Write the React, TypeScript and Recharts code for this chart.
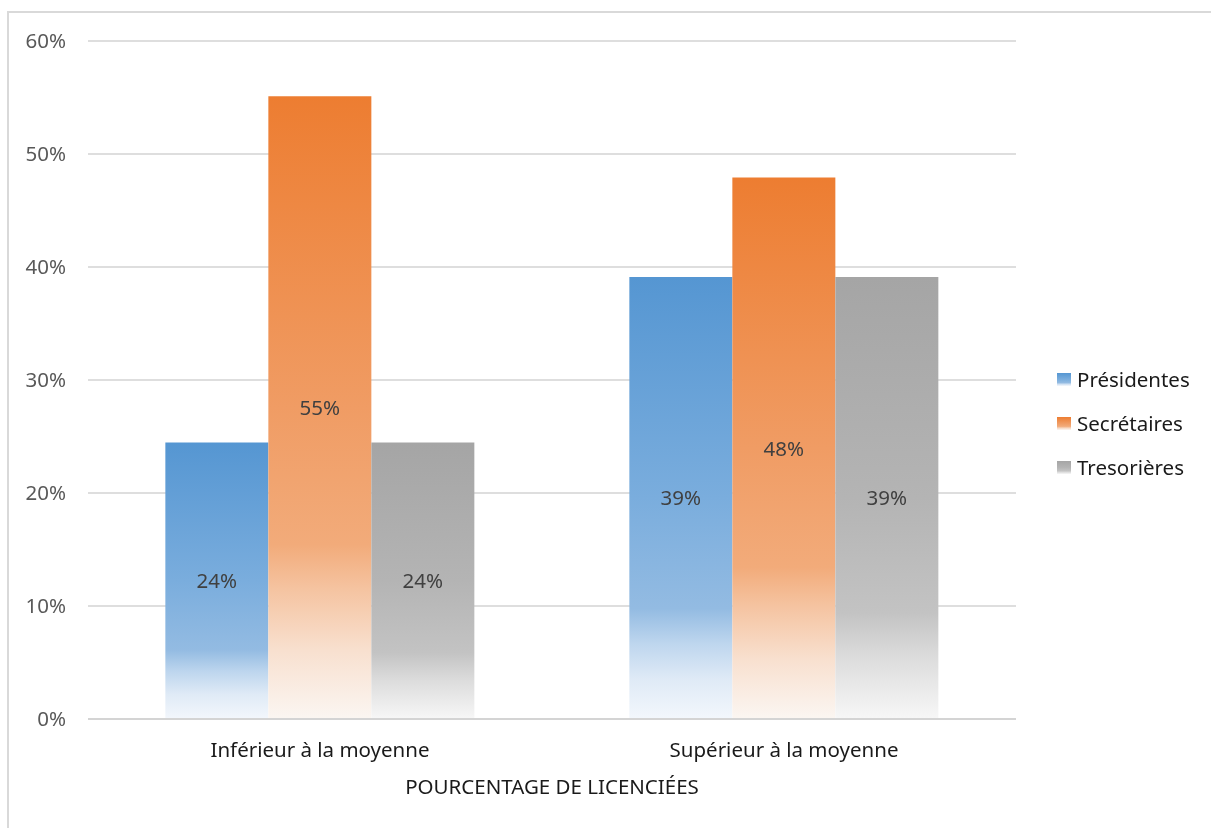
import React from 'react';
import { BarChart, Bar, XAxis, YAxis, CartesianGrid, Legend, LabelList } from 'recharts';

const categories = ['Inférieur à la moyenne', 'Supérieur à la moyenne'];
const presidentes = [0.2448, 0.3912];
const secretaires = [0.5512, 0.4792];
const tresorieres = [0.2448, 0.3912];
const seriesNames = ['Présidentes', 'Secrétaires', 'Tresorières'];
const seriesKeys = ['presidentes', 'secretaires', 'tresorieres'];
const gradientIds = ['gBlue', 'gOrange', 'gGray'];
const yTicks = [0, 0.1, 0.2, 0.3, 0.4, 0.5, 0.6];
const axisTitle = 'POURCENTAGE DE LICENCIÉES';

const data = categories.map((c, i) => ({
  cat: c,
  presidentes: presidentes[i],
  secretaires: secretaires[i],
  tresorieres: tresorieres[i],
}));

const pct = (v: any) => `${Math.round(Number(v) * 100)}%`;

const Gradients = () => (
  <svg width={0} height={0} style={{ position: 'absolute', left: 0, top: 0 }}>
    <defs>
      <linearGradient id="gBlue" x1="0" y1="0" x2="0" y2="1">
        <stop offset="0" stopColor="#5596d2" />
        <stop offset="0.5" stopColor="#7aaddd" />
        <stop offset="0.75" stopColor="#93bbe2" />
        <stop offset="0.83" stopColor="#bed6ee" />
        <stop offset="0.91" stopColor="#dfeaf6" />
        <stop offset="1" stopColor="#f3f7fc" />
      </linearGradient>
      <linearGradient id="gOrange" x1="0" y1="0" x2="0" y2="1">
        <stop offset="0" stopColor="#ed7d31" />
        <stop offset="0.5" stopColor="#f09c64" />
        <stop offset="0.72" stopColor="#f2ab7a" />
        <stop offset="0.79" stopColor="#f5c3a0" />
        <stop offset="0.89" stopColor="#f8e0cf" />
        <stop offset="1" stopColor="#fbf6f2" />
      </linearGradient>
      <linearGradient id="gGray" x1="0" y1="0" x2="0" y2="1">
        <stop offset="0" stopColor="#a5a5a5" />
        <stop offset="0.5" stopColor="#b4b4b4" />
        <stop offset="0.76" stopColor="#c3c3c3" />
        <stop offset="0.86" stopColor="#dcdcdc" />
        <stop offset="1" stopColor="#f7f7f7" />
      </linearGradient>
    </defs>
  </svg>
);

const LegendContent = () => (
  <div>
    {seriesNames.map((n, i) => (
      <div key={n} style={{ display: 'flex', alignItems: 'center', height: 44 }}>
        <svg width={14} height={13} style={{ marginRight: 6 }}>
          <rect x={0} y={0} width={14} height={13} fill={`url(#${gradientIds[i]})`} />
        </svg>
        <span style={{ fontSize: 20.5, color: '#1a1a1a' }}>{n}</span>
      </div>
    ))}
  </div>
);

export default function App() {
  return (
    <div style={{ position: 'relative', width: 1203, height: 810, fontFamily: "'Noto Sans', sans-serif" }}>
      <Gradients />
      <div
        style={{
          position: 'fixed',
          left: 7,
          top: 11,
          right: 0,
          bottom: 0,
          borderTop: '2px solid #d9d9d9',
          borderLeft: '2px solid #d9d9d9',
          pointerEvents: 'none',
        }}
      />
      <BarChart
        width={1203}
        height={810}
        data={data}
        margin={{ top: 33, right: 195, bottom: 19, left: 2 }}
        barCategoryGap="16.67%"
        barGap={0}
      >
        <CartesianGrid vertical={false} stroke="#dedede" strokeWidth={2} />
        <XAxis
          dataKey="cat"
          tickLine={false}
          tickSize={0}
          tickMargin={23}
          axisLine={{ stroke: '#d4d4d4', strokeWidth: 2 }}
          tick={{ fill: '#1a1a1a', fontSize: 20.5 }}
          height={80}
          label={{ value: axisTitle, position: 'insideBottom', offset: 5, fill: '#1a1a1a', fontSize: 20.5 }}
        />
        <YAxis
          domain={[0, 0.6]}
          ticks={yTicks}
          tickFormatter={pct}
          axisLine={false}
          tickLine={false}
          tickSize={0}
          tickMargin={22}
          width={78}
          tick={{ fill: '#595959', fontSize: 20.5 }}
        />
        <Legend
          layout="vertical"
          align="center"
          verticalAlign="middle"
          content={<LegendContent />}
          wrapperStyle={{ position: 'absolute', left: 1049, top: 349, width: 160 }}
        />
        {seriesKeys.map((k, i) => (
          <Bar key={k} dataKey={k} name={seriesNames[i]} fill={`url(#${gradientIds[i]})`} isAnimationActive={false}>
            <LabelList dataKey={k} position="center" formatter={pct} fill="#404040" fontSize={20.5} />
          </Bar>
        ))}
      </BarChart>
    </div>
  );
}
